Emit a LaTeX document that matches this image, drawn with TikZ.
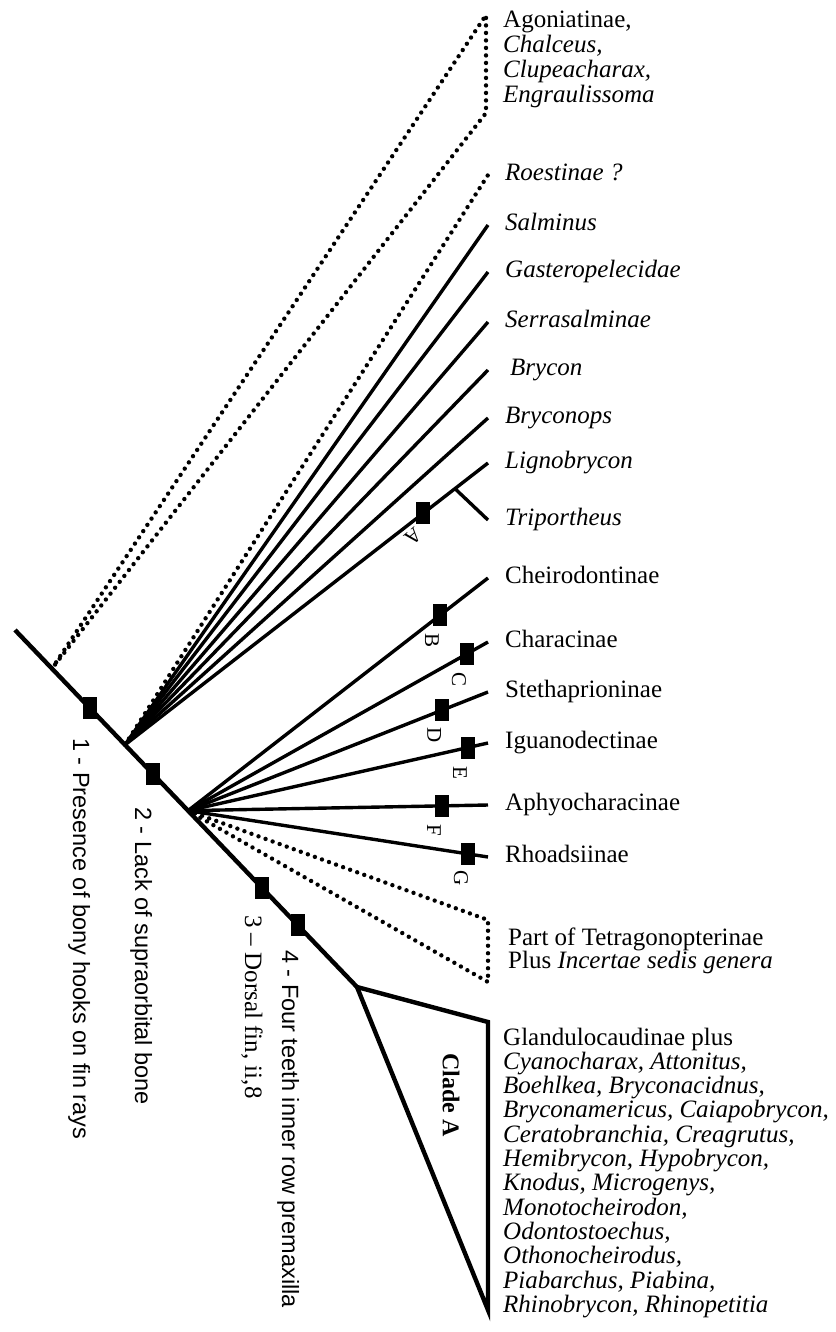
\documentclass[tikz,border=0pt]{standalone}
\usepackage{fontspec}
\setmainfont{Liberation Serif}
\newfontfamily\sansf{Liberation Sans}
\usetikzlibrary{calc}
\begin{document}
\begin{tikzpicture}[x=1pt,y=-1pt,
  trunk/.style={line width=4.4pt},
  branch/.style={line width=3.4pt},
  dotline/.style={line width=4.4pt, dash pattern=on 0pt off 7.5pt, line cap=round, line join=round},
  synbox/.style={rectangle, fill=black, draw=none, minimum width=14pt, minimum height=22pt, inner sep=0pt},
  leaf/.style={anchor=west, inner xsep=17pt, inner ysep=0pt, font=\fontsize{25}{27}\selectfont, text height=16pt, text depth=5pt},
  ital/.style={leaf, font=\fontsize{25}{27}\selectfont\itshape},
  blockline/.style={anchor=base west, inner xsep=15pt, inner ysep=0pt, font=\fontsize{25}{27}\selectfont},
  letterlab/.style={font=\fontsize{21}{23}\selectfont, inner sep=0pt},
  charlab/.style={rotate=-90, anchor=base west, inner sep=0pt, font=\sansf\fontsize{23.5}{26}\selectfont},
]
\useasboundingbox (0,0) rectangle (835,1332);

% trunk
\coordinate (root) at (15,630);
\coordinate (apex) at (357,987);
\coordinate (n0) at ($(root)!0.108!(apex)$);
\coordinate (f1) at ($(root)!0.3216!(apex)$);
\coordinate (f2) at ($(root)!0.506!(apex)$);
\draw[trunk] (root) -- (apex);

% Agoniatinae group
\coordinate (agT) at (486,15);
\coordinate (agB) at (486,113);
\draw[dotline] (n0) -- (agT) -- (agB) -- cycle;
\node[blockline, inner xsep=17pt] (ag1) at (486,28) {Agoniatinae,};
\node[blockline, inner xsep=17pt] (ag2) at (486,52.7) {\itshape Chalceus,};
\node[blockline, inner xsep=17pt] (ag3) at (486,77.4) {\itshape Clupeacharax,};
\node[blockline, inner xsep=17pt] (ag4) at (486,102.1) {\itshape Engraulissoma};

% first fan
\node[ital] (lRoe) at (488,175) {Roestinae ?};
\node[ital] (lSal) at (488,225) {Salminus};
\node[ital] (lGas) at (488,272) {Gasteropelecidae};
\node[ital] (lSer) at (488,322) {Serrasalminae};
\node[ital, inner xsep=22pt] (lBry) at (488,370) {Brycon};
\node[ital] (lBrs) at (488,418) {Bryconops};
\node[ital] (lLig) at (488,463) {Lignobrycon};
\node[ital] (lTri) at (488,520) {Triportheus};
\draw[dotline] (f1) -- (lRoe.west);
\draw[branch] (f1) -- (lSal.west);
\draw[branch] (f1) -- (lGas.west);
\draw[branch] (f1) -- (lSer.west);
\draw[branch] (f1) -- (lBry.west);
\draw[branch] (f1) -- (lBrs.west);
\draw[branch] (f1) -- (lLig.west);
\coordinate (bLT) at ($(f1)!0.909!(lLig.west)$);
\draw[branch] (bLT) -- (lTri.west);
\node[synbox] (mA) at ($(f1)!0.821!(lLig.west)$) {};
\node[letterlab, rotate=-140] (tA) at (413,537) {A};

% second fan
\node[leaf] (lChe) at (488,578) {Cheirodontinae};
\node[leaf] (lCha) at (488,642) {Characinae};
\node[leaf] (lSte) at (488,692) {Stethaprioninae};
\node[leaf] (lIgu) at (488,743) {Iguanodectinae};
\node[leaf] (lAph) at (488,805) {Aphyocharacinae};
\node[leaf] (lRho) at (488,857) {Rhoadsiinae};
\draw[branch] (f2) -- (lChe.west);
\draw[branch] (f2) -- (lCha.west);
\draw[branch] (f2) -- (lSte.west);
\draw[branch] (f2) -- (lIgu.west);
\draw[branch] (f2) -- (lAph.west);
\draw[branch] (f2) -- (lRho.west);
\node[synbox] (mB) at ($(f2)!0.84!(lChe.west)$) {};
\node[synbox] (mC) at ($(f2)!0.93!(lCha.west)$) {};
\node[synbox] (mD) at ($(f2)!0.847!(lSte.west)$) {};
\node[synbox] (mE) at ($(f2)!0.933!(lIgu.west)$) {};
\node[synbox] (mF) at ($(f2)!0.847!(lAph.west)$) {};
\node[synbox] (mG) at ($(f2)!0.933!(lRho.west)$) {};
\node[letterlab, rotate=-90] (tB) at ($(mB)+(-8,25)$) {B};
\node[letterlab, rotate=-90] (tC) at ($(mC)+(-8,26)$) {C};
\node[letterlab, rotate=-90] (tD) at ($(mD)+(-8,25)$) {D};
\node[letterlab, rotate=-90] (tE) at ($(mE)+(-8,25)$) {E};
\node[letterlab, rotate=-90] (tF) at ($(mF)+(-8,24)$) {F};
\node[letterlab, rotate=-90] (tG) at ($(mG)+(-7,24)$) {G};

% Tetragonopterinae group
\coordinate (ptT) at (488,920);
\coordinate (ptB) at (488,982);
\draw[dotline] (f2) -- (ptT) -- (ptB) -- cycle;
\node[blockline, inner xsep=20pt] (pt1) at (488,945) {Part of Tetragonopterinae};
\node[blockline, inner xsep=20pt] (pt2) at (488,968) {Plus \textit{Incertae sedis genera}};

% Clade A
\coordinate (caT) at (488,1022);
\coordinate (caB) at (488,1310);
\draw[trunk, line join=miter] (apex) -- (caT) -- (caB) -- cycle;
\node[rotate=-90, font=\fontsize{24}{26}\selectfont\bfseries, inner sep=0pt] (cladeA) at (451,1095) {Clade A};
\node[blockline] (c0) at (488,1045) {Glandulocaudinae plus};
\node[blockline] (c1) at (488,1069.3) {\itshape Cyanocharax, Attonitus,};
\node[blockline] (c2) at (488,1093.6) {\itshape Boehlkea, Bryconacidnus,};
\node[blockline] (c3) at (488,1117.9) {\itshape Bryconamericus, Caiapobrycon,};
\node[blockline] (c4) at (488,1142.2) {\itshape Ceratobranchia, Creagrutus,};
\node[blockline] (c5) at (488,1166.5) {\itshape Hemibrycon, Hypobrycon,};
\node[blockline] (c6) at (488,1190.8) {\itshape Knodus, Microgenys,};
\node[blockline] (c7) at (488,1215.1) {\itshape Monotocheirodon,};
\node[blockline] (c8) at (488,1239.4) {\itshape Odontostoechus,};
\node[blockline] (c9) at (488,1263.7) {\itshape Othonocheirodus,};
\node[blockline] (c10) at (488,1288) {\itshape Piabarchus, Piabina,};
\node[blockline] (c11) at (488,1312.3) {\itshape Rhinobrycon, Rhinopetitia};

% synapomorphies on trunk
\node[synbox] (m1) at ($(root)!0.219!(apex)$) {};
\node[synbox] (m2) at ($(root)!0.4035!(apex)$) {};
\node[synbox] (m3) at ($(root)!0.722!(apex)$) {};
\node[synbox] (m4) at ($(root)!0.8275!(apex)$) {};
\node[charlab] (ch1) at (73,738) {1 - Presence of bony hooks on fin rays};
\node[charlab] (ch2) at (135,807) {2 - Lack of supraorbital bone};
\node[charlab, font=\fontsize{25}{27}\selectfont] (ch3) at (245,915) {3 -- Dorsal fin, ii,8};
\node[charlab] (ch4) at (282,950) {4 - Four teeth inner row premaxilla};
\end{tikzpicture}
\end{document}
